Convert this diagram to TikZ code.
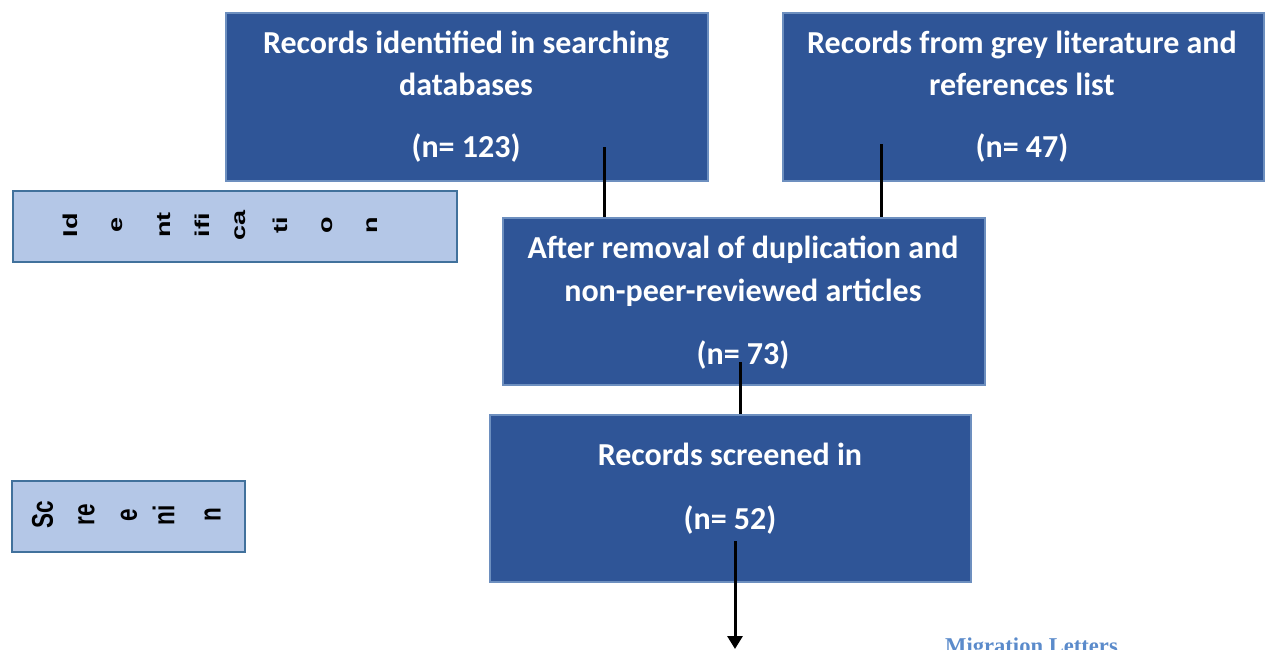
\documentclass[tikz,border=0pt]{standalone}
\usepackage{fontspec}
\setmainfont{Carlito}
\newfontfamily\sidefont{Liberation Sans}
\newfontfamily\serifb{Liberation Serif}
\usetikzlibrary{arrows.meta}
\definecolor{boxfill}{HTML}{2F5597}
\definecolor{boxedge}{HTML}{6D8FBF}
\definecolor{sidefill}{HTML}{B4C7E7}
\definecolor{sideedge}{HTML}{41719C}
\definecolor{journal}{HTML}{5B8BCB}
\tikzset{
  darkbox/.style={draw=boxedge, fill=boxfill, line width=2pt, inner sep=0pt, anchor=north west},
  sidebox/.style={draw=sideedge, fill=sidefill, line width=2pt, inner sep=0pt, anchor=north west},
  maintext/.style={text=white, font=\fontsize{32}{38}\selectfont\bfseries, inner sep=0pt, anchor=base},
  identtext/.style={font=\sidefont\bfseries\fontsize{20}{20}\selectfont, inner sep=0pt, rotate=90, xscale=1.35},
  screentext/.style={font=\sidefont\bfseries\fontsize{30}{30}\selectfont, inner sep=0pt, rotate=90, xscale=0.75},
  conn/.style={draw=black, line width=3pt}
}
\begin{document}
\begin{tikzpicture}[x=1pt,y=-1pt]
\useasboundingbox (0,0) rectangle (1271,649);

% boxes
\node[darkbox, minimum width=482pt, minimum height=168pt] (A) at (225,12) {};
\node[darkbox, minimum width=481pt, minimum height=168pt] (B) at (782,12) {};
\node[darkbox, minimum width=482pt, minimum height=167pt] (C) at (502,217) {};
\node[darkbox, minimum width=481pt, minimum height=167pt] (D) at (489,414) {};
\node[sidebox, minimum width=444pt, minimum height=71pt] (I) at (12,190) {};
\node[sidebox, minimum width=233pt, minimum height=71pt] (S) at (11,480) {};

% texts in box A
\node[maintext] (a1t) at (466,53) {Records identified in searching};
\node[maintext] (a2t) at (466,95) {databases};
\node[maintext] (a3t) at (466,157) {(n= 123)};
% box B
\node[maintext] (b1t) at (1022,53) {Records from grey literature and};
\node[maintext] (b2t) at (1022,95) {references list};
\node[maintext] (b3t) at (1022,157) {(n= 47)};
% box C
\node[maintext] (c1t) at (743,258) {After removal of duplication and};
\node[maintext] (c2t) at (743,301) {non-peer-reviewed articles};
\node[maintext] (c3t) at (743,364) {(n= 73)};
% box D
\node[maintext] (d1t) at (730,465) {Records screened in};
\node[maintext] (d2t) at (730,529) {(n= 52)};

% identification
\node[identtext] (i1) at (70.5,225) {Id};
\node[identtext] (i2) at (117,225) {e};
\node[identtext] (i3) at (164,225) {nt};
\node[identtext] (i4) at (202.5,225) {ifi};
\node[identtext] (i5) at (240,225) {ca};
\node[identtext] (i6) at (280,225) {ti};
\node[identtext] (i7) at (327,225) {o};
\node[identtext] (i8) at (372.5,225) {n};

% screening
\node[screentext] (s1) at (42.5,515) {Sc};
\node[screentext] (s2) at (86.5,515) {re};
\node[screentext] (s3) at (129,515) {e};
\node[screentext] (s4) at (163.5,515) {ni};
\node[screentext] (s5) at (212.5,515) {n};

% connectors
\coordinate (pa) at (604,147);
\draw[conn] (pa) -- (pa |- C.north);
\coordinate (pb) at (881,144);
\draw[conn] (pb) -- (pb |- C.north);
\coordinate (pc) at (740,362);
\draw[conn] (pc) -- (pc |- D.north);
\coordinate (pd) at (735,541);
\coordinate (pe) at (735,649);
\draw[conn, -{Triangle[width=15pt,length=13pt]}] (pd) -- (pe);

% footer
\node[font=\serifb\bfseries\fontsize{22.6}{24}\selectfont, text=journal, inner sep=0pt, anchor=base west] (ml) at (945,653) {Migration Letters};
\end{tikzpicture}
\end{document}
